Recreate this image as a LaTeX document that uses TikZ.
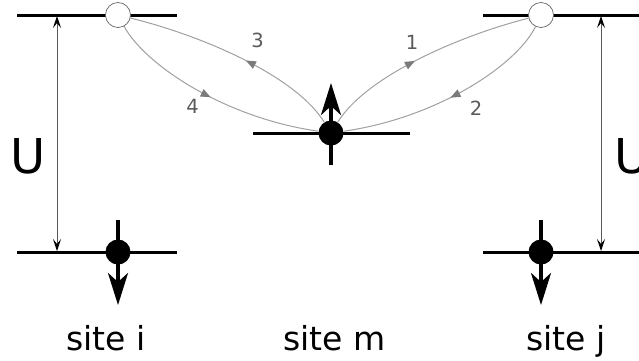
\documentclass[tikz,border=0pt]{standalone}
\usepackage{fontspec}
\setmainfont{DejaVu Sans}
\usetikzlibrary{arrows.meta,decorations.markings}
\definecolor{hopgray}{HTML}{A0A0A0}
\definecolor{labgray}{HTML}{5A5A5A}
\begin{document}
\begin{tikzpicture}[x=1pt,y=-1pt,
  level/.style={line width=3pt,black},
  hole/.style={circle,draw=gray!80!black,fill=white,line width=0.7pt,minimum size=25pt,inner sep=0pt},
  elec/.style={circle,fill=black,minimum size=25pt,inner sep=0pt},
  spin/.style={line width=3.2pt,black,-{Stealth[length=32pt,width=20pt,inset=9pt]}},
  uarrow/.style={draw=gray!70!black,line width=0.9pt,{Stealth[black,length=12pt,width=8pt,inset=5pt]}-{Stealth[black,length=12pt,width=8pt,inset=5pt]}},
  hop/.style={draw=hopgray,line width=1pt,postaction={decorate},
    decoration={markings,mark=at position #1 with {\arrow[labgray!80]{Triangle[length=10pt,width=8pt]}}}},
  hop/.default=0.5,
  lab/.style={text=labgray,font=\fontsize{19.5}{19.5}\selectfont,inner sep=0pt},
  site/.style={anchor=base west,font=\fontsize{33}{33}\selectfont,inner sep=0pt},
  ulab/.style={font=\fontsize{48}{48}\selectfont,inner sep=0pt}
]
\useasboundingbox (0,0) rectangle (639,360);
\clip (0,0) rectangle (639,360);
% energy levels
\draw[level] (17,15) -- (177,15);
\draw[level] (483,15) -- (639,15);
\draw[level] (17,252) -- (177,252);
\draw[level] (483,252) -- (639,252);
\draw[level] (253,133) -- (410,133);
% U arrows
\coordinate (uit) at (57,16);
\coordinate (uib) at (57,251);
\coordinate (ujt) at (601,16);
\coordinate (ujb) at (601,251);
\draw[uarrow] (uit) -- (uib);
\draw[uarrow] (ujt) -- (ujb);
\node[ulab] (ui) at (28,156) {U};
\node[ulab] (uj) at (632,156) {U};
% spins
\coordinate (si1) at (118,220);
\coordinate (si2) at (118,305);
\coordinate (sj1) at (541,220);
\coordinate (sj2) at (541,305);
\coordinate (sm1) at (331,165);
\coordinate (sm2) at (331,83);
\draw[spin] (si1) -- (si2);
\draw[spin] (sj1) -- (sj2);
\draw[spin] (sm1) -- (sm2);
% sites
\node[elec] (ei) at (118,252) {};
\node[elec] (ej) at (541,252) {};
\node[elec] (m) at (331,133) {};
\node[hole] (ci) at (118,15) {};
\node[hole] (cj) at (541,15) {};
% hopping paths
\draw[hop=0.45] (m) .. controls (295,75) and (200,35) .. (ci);
\draw[hop] (ci) .. controls (145,65) and (225,118) .. (m);
\draw[hop=0.45] (m) .. controls (367,75) and (462,35) .. (cj);
\draw[hop] (cj) .. controls (517,65) and (437,118) .. (m);
% labels
\node[lab] (l3) at (257.5,40) {3};
\node[lab] (l4) at (192.5,106.5) {4};
\node[lab] (l1) at (412,42.5) {1};
\node[lab] (l2) at (476,108.5) {2};
\node[site] (ti) at (66,350) {site i};
\node[site] (tm) at (283,350) {site m};
\node[site] (tj) at (526,350) {site j};
\end{tikzpicture}
\end{document}
